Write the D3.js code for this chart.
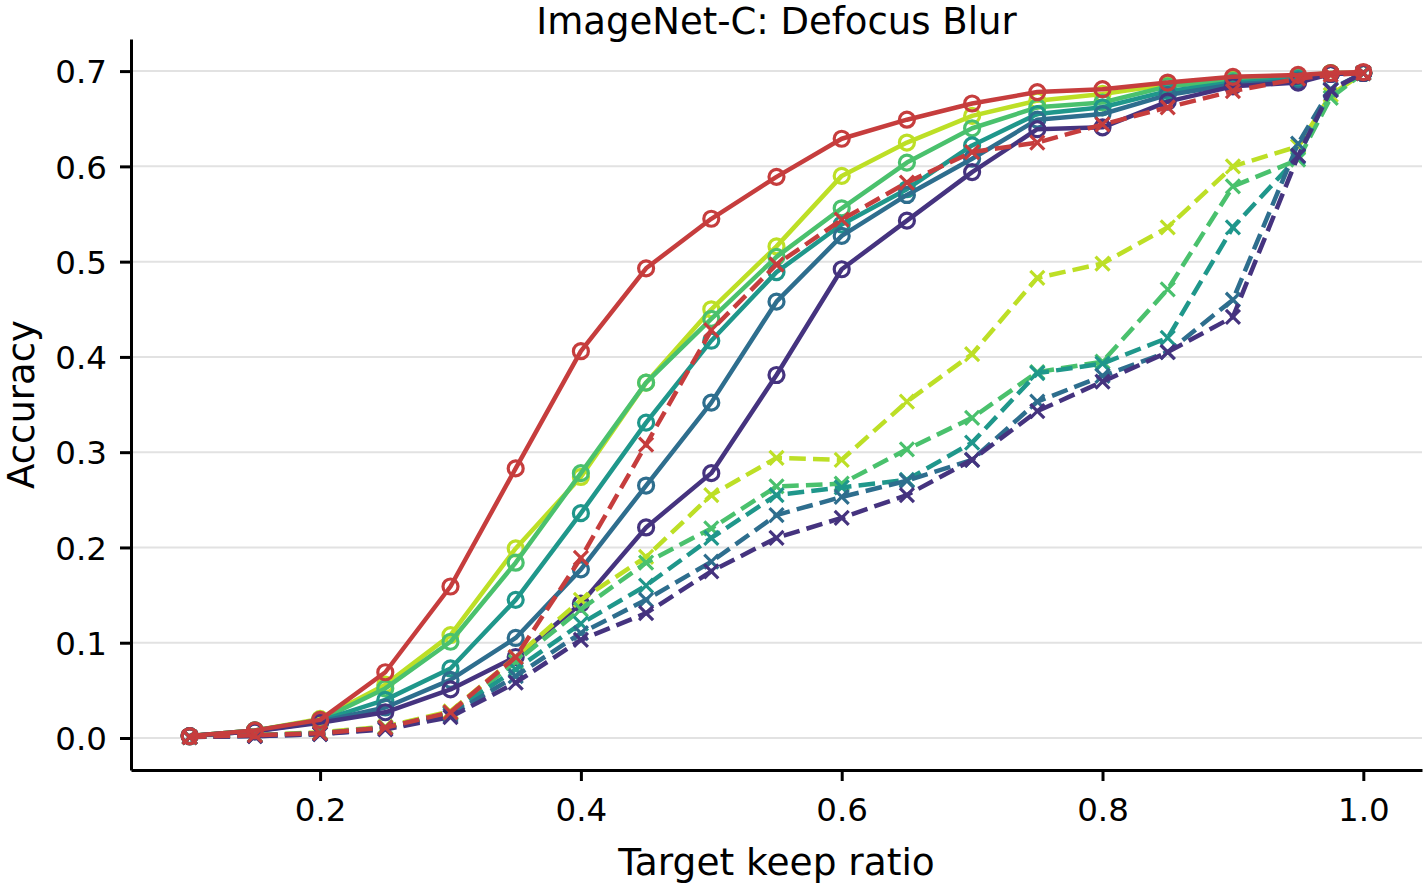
<!DOCTYPE html>
<html>
<head>
<meta charset="utf-8">
<script src="https://cdn.jsdelivr.net/npm/d3@7"></script>
<style>
  body { margin: 0; background: #fff; }
  text { font-family: "DejaVu Sans", sans-serif; }
</style>
</head>
<body>
<svg id="chart" width="1424" height="883"></svg>
<script>
const keepRatios = [0.1, 0.15, 0.2, 0.25, 0.3, 0.35, 0.4, 0.45, 0.5, 0.55, 0.6, 0.65, 0.7, 0.75, 0.8, 0.85, 0.9, 0.95, 0.975, 1.0];
const yTicks = [0.0, 0.1, 0.2, 0.3, 0.4, 0.5, 0.6, 0.7];
const xTicks = [0.2, 0.4, 0.6, 0.8, 1.0];

// solid lines, circle markers
const solidPurple = [0.002, 0.007, 0.016, 0.027, 0.051, 0.085, 0.141, 0.221, 0.278, 0.381, 0.492, 0.543, 0.594, 0.639, 0.641, 0.668, 0.684, 0.688, 0.697, 0.698];
const solidBlue   = [0.002, 0.007, 0.017, 0.032, 0.061, 0.105, 0.177, 0.265, 0.352, 0.458, 0.527, 0.570, 0.608, 0.649, 0.655, 0.675, 0.686, 0.690, 0.697, 0.698];
const solidTeal   = [0.002, 0.008, 0.018, 0.040, 0.073, 0.145, 0.236, 0.331, 0.417, 0.489, 0.539, 0.576, 0.622, 0.655, 0.662, 0.679, 0.688, 0.692, 0.697, 0.698];
const solidGreen  = [0.002, 0.008, 0.019, 0.052, 0.101, 0.184, 0.278, 0.373, 0.440, 0.505, 0.556, 0.604, 0.640, 0.662, 0.667, 0.684, 0.690, 0.694, 0.698, 0.698];
const solidYellow = [0.002, 0.008, 0.020, 0.056, 0.108, 0.199, 0.274, 0.373, 0.450, 0.516, 0.590, 0.625, 0.653, 0.669, 0.676, 0.686, 0.692, 0.695, 0.698, 0.698];
const solidRed    = [0.002, 0.008, 0.019, 0.069, 0.159, 0.283, 0.406, 0.493, 0.545, 0.589, 0.629, 0.649, 0.666, 0.678, 0.681, 0.688, 0.694, 0.696, 0.698, 0.699];

// dashed lines, x markers
const dashPurple = [0.001, 0.002, 0.004, 0.009, 0.022, 0.058, 0.103, 0.131, 0.175, 0.210, 0.231, 0.255, 0.292, 0.343, 0.374, 0.405, 0.442, 0.611, 0.680, 0.698];
const dashBlue   = [0.001, 0.002, 0.004, 0.010, 0.024, 0.065, 0.110, 0.145, 0.185, 0.234, 0.253, 0.270, 0.292, 0.353, 0.380, 0.405, 0.460, 0.624, 0.681, 0.698];
const dashTeal   = [0.001, 0.003, 0.005, 0.011, 0.026, 0.072, 0.120, 0.160, 0.210, 0.255, 0.263, 0.271, 0.310, 0.383, 0.393, 0.420, 0.536, 0.610, 0.680, 0.698];
const dashGreen  = [0.001, 0.003, 0.005, 0.011, 0.026, 0.080, 0.135, 0.184, 0.220, 0.264, 0.267, 0.303, 0.336, 0.384, 0.395, 0.471, 0.579, 0.607, 0.672, 0.698];
const dashYellow = [0.001, 0.003, 0.006, 0.012, 0.028, 0.085, 0.145, 0.190, 0.255, 0.294, 0.292, 0.353, 0.403, 0.483, 0.498, 0.536, 0.600, 0.621, 0.675, 0.698];
const dashRed    = [0.001, 0.003, 0.005, 0.011, 0.027, 0.085, 0.189, 0.308, 0.428, 0.497, 0.544, 0.583, 0.615, 0.625, 0.644, 0.662, 0.679, 0.692, 0.696, 0.698];

const purple = "#45337f";
const blue = "#2e6e8e";
const teal = "#1f978b";
const green = "#4ac16d";
const yellow = "#bddf26";
const red = "#c63d3d";

// drawing order: viridis solids, viridis dashed, red dashed, red solid
const series = [
  { values: solidYellow, color: yellow, dashed: false },
  { values: solidGreen,  color: green,  dashed: false },
  { values: solidTeal,   color: teal,   dashed: false },
  { values: solidBlue,   color: blue,   dashed: false },
  { values: solidPurple, color: purple, dashed: false },
  { values: dashYellow,  color: yellow, dashed: true },
  { values: dashGreen,   color: green,  dashed: true },
  { values: dashTeal,    color: teal,   dashed: true },
  { values: dashBlue,    color: blue,   dashed: true },
  { values: dashPurple,  color: purple, dashed: true },
  { values: dashRed,     color: red,    dashed: true },
  { values: solidRed,    color: red,    dashed: false },
];

const plotLeft = 131, plotRight = 1422, plotTop = 39, plotBottom = 770;

const x = d3.scaleLinear().domain([0.055, 1.045]).range([plotLeft, plotRight]);
const y = d3.scaleLinear().domain([-0.0336, 0.7337]).range([plotBottom, plotTop]);

const svg = d3.select("#chart");

// grid
svg.append("g")
  .selectAll("line")
  .data(yTicks)
  .join("line")
  .attr("x1", plotLeft).attr("x2", plotRight)
  .attr("y1", d => y(d)).attr("y2", d => y(d))
  .attr("stroke", "#e2e2e2")
  .attr("stroke-width", 2);

const line = d3.line()
  .x((d, i) => x(keepRatios[i]))
  .y(d => y(d));

const plot = svg.append("g");

series.forEach(s => {
  const g = plot.append("g");
  g.append("path")
    .datum(s.values)
    .attr("d", line)
    .attr("fill", "none")
    .attr("stroke", s.color)
    .attr("stroke-width", 4.5)
    .attr("stroke-linejoin", "round")
    .attr("stroke-dasharray", s.dashed ? "16.6,7.2" : null);

  if (s.dashed) {
    const k = 7;
    g.selectAll("path.mk")
      .data(s.values)
      .join("path")
      .attr("class", "mk")
      .attr("d", (d, i) => {
        const cx = x(keepRatios[i]), cy = y(d);
        return `M${cx - k},${cy - k}L${cx + k},${cy + k}M${cx - k},${cy + k}L${cx + k},${cy - k}`;
      })
      .attr("stroke", s.color)
      .attr("stroke-width", 3.2)
      .attr("fill", "none");
  } else {
    g.selectAll("circle")
      .data(s.values)
      .join("circle")
      .attr("cx", (d, i) => x(keepRatios[i]))
      .attr("cy", d => y(d))
      .attr("r", 7.5)
      .attr("fill", "none")
      .attr("stroke", s.color)
      .attr("stroke-width", 3.2);
  }
});

// axes
const xAxis = svg.append("g")
  .attr("transform", `translate(0,${plotBottom})`)
  .call(d3.axisBottom(x).tickValues(xTicks).tickFormat(d3.format(".1f")).tickSize(11).tickPadding(17).tickSizeOuter(0));

const yAxis = svg.append("g")
  .attr("transform", `translate(${plotLeft},0)`)
  .call(d3.axisLeft(y).tickValues(yTicks).tickFormat(d3.format(".1f")).tickSize(11).tickPadding(13).tickSizeOuter(0));

[xAxis, yAxis].forEach(a => {
  a.select(".domain").attr("stroke", "#000").attr("stroke-width", 3);
  a.selectAll(".tick line").attr("stroke", "#000").attr("stroke-width", 3);
  a.selectAll(".tick text")
    .attr("fill", "#000")
    .style("font-size", "32.5px")
    .style("font-family", "DejaVu Sans");
});
xAxis.selectAll(".tick text").attr("dy", "0.71em");
yAxis.selectAll(".tick text").attr("dy", "0.36em");

svg.append("text")
  .attr("x", (plotLeft + plotRight) / 2)
  .attr("y", 875)
  .attr("text-anchor", "middle")
  .style("font-size", "37.5px")
  .text("Target keep ratio");

svg.append("text")
  .attr("transform", `translate(34,${(plotTop + plotBottom) / 2}) rotate(-90)`)
  .attr("text-anchor", "middle")
  .style("font-size", "37px")
  .text("Accuracy");

svg.append("text")
  .attr("x", (plotLeft + plotRight) / 2)
  .attr("y", 34)
  .attr("text-anchor", "middle")
  .style("font-size", "37px")
  .text("ImageNet-C: Defocus Blur");
</script>
</body>
</html>
